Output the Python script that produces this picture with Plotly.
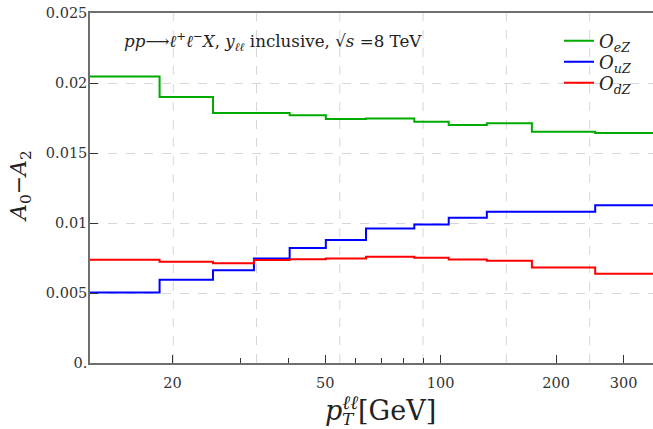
import numpy as np
import plotly.graph_objects as go

# bin edges in pT (GeV)
edges = [11.4, 18.5, 25.5, 32.6, 40.4, 50.2, 63.9, 85.4, 105, 132, 173, 253, 600]
O_eZ = [0.02047, 0.0190, 0.01786, 0.01785, 0.01769, 0.01743, 0.01747, 0.01724, 0.0170, 0.01712, 0.01652, 0.01643]
O_uZ = [0.00504, 0.00595, 0.00662, 0.00747, 0.00821, 0.00879, 0.00961, 0.0099, 0.01038, 0.01081, 0.01081, 0.01126]
O_dZ = [0.00738, 0.00724, 0.00712, 0.00736, 0.00741, 0.00747, 0.00759, 0.00752, 0.0074, 0.00731, 0.00683, 0.00638]

series = [
    ("<i>O</i><sub><i>eZ</i></sub>", O_eZ, "#00aa00"),
    ("<i>O</i><sub><i>uZ</i></sub>", O_uZ, "#0000ff"),
    ("<i>O</i><sub><i>dZ</i></sub>", O_dZ, "#ff0000"),
]

y_tickvals = [0, 0.005, 0.01, 0.015, 0.02, 0.025]
y_ticktext = ["0.", "0.005", "0.01", "0.015", "0.02", "0.025"]
x_major = [20, 50, 100, 200, 300]
x_minor = [30, 40, 60, 70, 80, 90]
x_grid = list(np.exp(np.arange(3.0, 6.0, 0.5)))

FONT = "DejaVu Serif"
AX = "#6e6e6e"
TXT = "#222"

L, R, T, B = 90, 0, 13, 66
W, H = 653, 429
pw, ph = W - L - R, H - T - B

fig = go.Figure()
legend_names = ["legend", "legend2", "legend3"]
legend_y_px = [41, 62, 83]
for (name, vals, col), lg in zip(series, legend_names):
    fig.add_trace(go.Scatter(
        x=edges, y=list(vals) + [vals[-1]], mode="lines", name=name, legend=lg,
        line=dict(color=col, width=2, shape="hv"),
    ))

shapes = [dict(type="line", xref="x", yref="paper", x0=g, x1=g, y0=0, y1=1,
               line=dict(color="#d6d6d6", width=1, dash="dash"), layer="below")
          for g in x_grid]

legend_style = lambda ypx: dict(
    x=(559 - L) / pw, y=(H - B - ypx) / ph, xanchor="left", yanchor="middle",
    font=dict(family=FONT, size=18, color=TXT), bgcolor="rgba(0,0,0,0)",
    borderwidth=0)

fig.update_layout(
    width=W, height=H,
    margin=dict(l=L, r=R, t=T, b=B),
    paper_bgcolor="white", plot_bgcolor="white",
    font=dict(family=FONT, size=14, color=TXT),
    shapes=shapes,
    showlegend=True,
    legend=legend_style(legend_y_px[0]),
    legend2=legend_style(legend_y_px[1]),
    legend3=legend_style(legend_y_px[2]),
    xaxis=dict(type="log", range=[np.log10(np.exp(2.5)), np.log10(358)],
               tickvals=x_major, ticktext=[str(v) for v in x_major],
               ticks="inside", ticklen=8, tickwidth=1, tickcolor="#333",
               minor=dict(tickvals=x_minor, ticks="inside", ticklen=5, tickcolor="#333", showgrid=False),
               showgrid=False, showline=True, linecolor=AX, linewidth=1.5, mirror=True,
               zeroline=False, ticklabelstandoff=6,
               tickfont=dict(family=FONT, size=14.5, color="#333")),
    yaxis=dict(range=[0, 0.025], tickvals=y_tickvals, ticktext=y_ticktext,
               ticks="inside", ticklen=8, tickwidth=1, tickcolor="#333",
               showgrid=True, gridcolor="#d6d6d6", griddash="dash", gridwidth=1,
               showline=True, linecolor=AX, linewidth=1.5, mirror=False,
               zeroline=False, ticklabelstandoff=-2,
               tickfont=dict(family=FONT, size=14.5, color="#333")),
    annotations=[
        dict(x=122, y=41.7, xref="paper", yref="paper", showarrow=False, xanchor="left", yanchor="middle",
             text="<i>pp</i>⟶<i>ℓ</i><sup>+</sup><i>ℓ</i><sup>−</sup><i>X</i>, <i>y</i><sub><i>ℓℓ</i></sub> inclusive, √<i>s</i> =8 TeV",
             font=dict(family=FONT, size=16.7, color=TXT)),
        dict(x=20, y=186, xref="paper", yref="paper", showarrow=False, textangle=-90,
             xanchor="center", yanchor="middle",
             text="<i>A</i><sub>0</sub>−<i>A</i><sub>2</sub>",
             font=dict(family=FONT, size=22, color=TXT)),
        dict(x=323, y=408, xref="paper", yref="paper", showarrow=False, xanchor="left", yanchor="middle",
             text="<i>p</i><sup><i>ℓℓ</i></sup>[GeV]",
             font=dict(family=FONT, size=27, color=TXT)),
        dict(x=340, y=419, xref="paper", yref="paper", showarrow=False, xanchor="left", yanchor="middle",
             text="<i>T</i>",
             font=dict(family=FONT, size=17, color=TXT)),
    ],
)

# convert pixel-placed annotations into paper coordinates
for a in fig.layout.annotations:
    a.x = (a.x - L) / pw
    a.y = (H - B - a.y) / ph

fig.write_html("out.html", config={"displayModeBar": False},
               post_script="document.body.style.margin='0px';")
